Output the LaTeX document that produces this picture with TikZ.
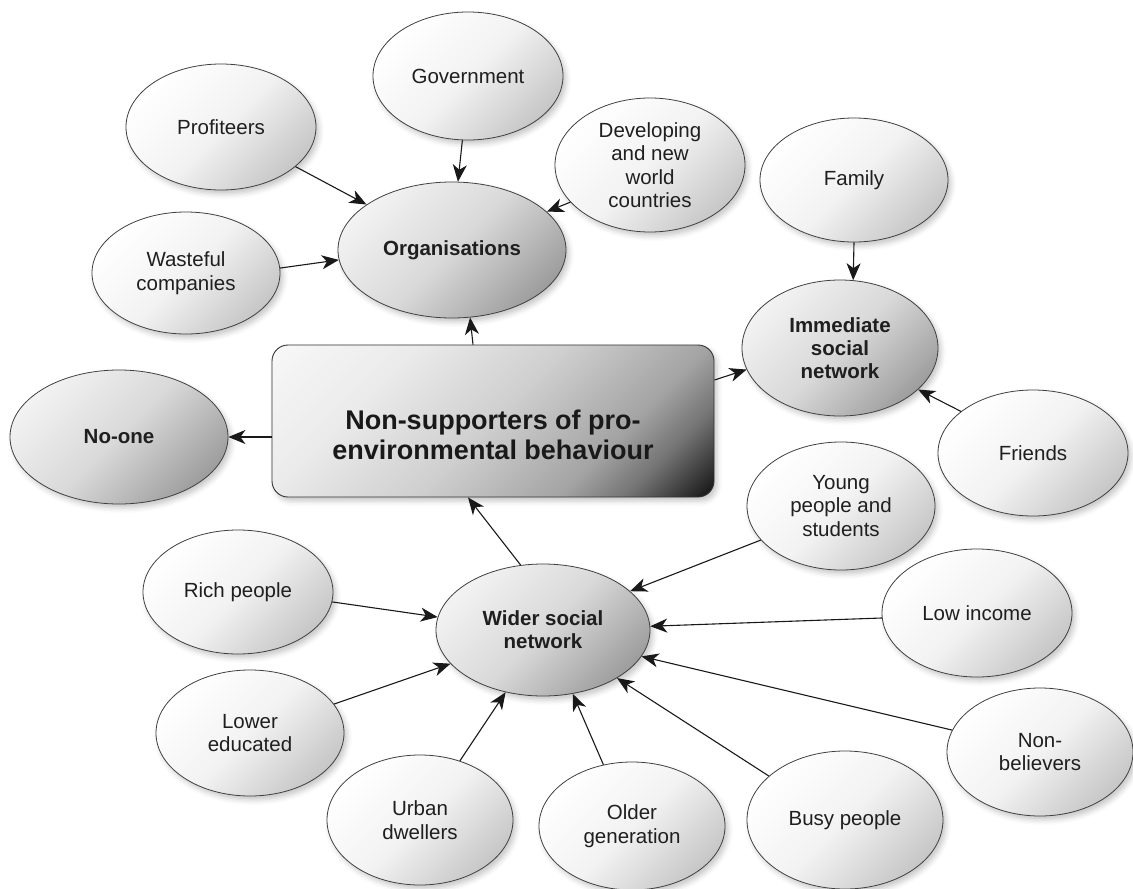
\documentclass[tikz,border=0pt]{standalone}
\usepackage{fontspec}
\setmainfont{Liberation Sans}
\usetikzlibrary{shapes.geometric,arrows.meta,shadows.blur}

% diagonal grey ramp for the central box: light top-left, black bottom-right corner
\pgfdeclareverticalshading{hubboxshade}{100bp}{%
  color(0bp)=(black!95); color(15bp)=(black!92); color(25bp)=(black!55);
  color(33bp)=(black!36); color(50bp)=(black!19); color(68bp)=(black!8);
  color(85bp)=(black!3); color(100bp)=(black!3)}

\tikzset{
  softshadow/.style={blur shadow={shadow xshift=3pt, shadow yshift=-4pt,
      shadow blur radius=5pt, shadow opacity=22}},
  bubble/.style={ellipse, draw=black!75, line width=0.8pt, inner sep=0pt,
      align=center, text=black!88, softshadow},
  leaf/.style={bubble, top color=white, bottom color=black!22,
      middle color=black!5, shading angle=45,
      font=\fontsize{20.5}{23.5}\selectfont},
  group/.style={bubble, top color=black!5, bottom color=black!38,
      middle color=black!15, shading angle=45,
      font=\bfseries\fontsize{20.5}{23}\selectfont},
  hub/.style={rectangle, rounded corners=16pt, draw=black!80, line width=0.9pt,
      shading=hubboxshade, shading angle=45, softshadow},
  hubtext/.style={font=\bfseries\fontsize{27}{30}\selectfont, align=center,
      text=black!90, inner sep=0pt},
  link/.style={draw=black!90, line width=1.1pt,
      -{Stealth[length=17pt,width=14pt,inset=5pt]}},
}

\begin{document}
\begin{tikzpicture}[x=1pt,y=-1pt]
\useasboundingbox (0,0) rectangle (1133,889);

% central box
\node[hub, minimum width=442pt, minimum height=152pt] (hub) at (493,421) {};
\node[hubtext] (hubtext) at (493,435) {Non-supporters of pro-\\environmental behaviour};

% group ellipses
\node[group, minimum width=228pt, minimum height=136pt] (org)   at (452,250) {Organisations};
\node[group, minimum width=196pt, minimum height=136pt] (imm)   at (840,348) {Immediate\\social\\network};
\node[group, minimum width=218pt, minimum height=134pt] (noone) at (119,437) {No-one};
\node[group, minimum width=214pt, minimum height=132pt] (wider) at (543,630) {Wider social\\network};

% organisations
\node[leaf, minimum width=190pt, minimum height=128pt] (gov)   at (468,76)  {Government};
\node[leaf, minimum width=190pt, minimum height=126pt] (prof)  at (221,127) {Profiteers};
\node[leaf, minimum width=190pt, minimum height=134pt] (dev)   at (650,165) {Developing\\and new\\world\\countries};
\node[leaf, minimum width=188pt, minimum height=122pt] (waste) at (186,273) {Wasteful\\companies};

% immediate social network
\node[leaf, minimum width=188pt, minimum height=124pt] (family)  at (854,180)  {Family};
\node[leaf, minimum width=190pt, minimum height=126pt] (friends) at (1033,453) {Friends};

% wider social network
\node[leaf, minimum width=188pt, minimum height=128pt] (young) at (841,506)  {Young\\people and\\students};
\node[leaf, minimum width=190pt, minimum height=124pt] (rich)  at (238,592)  {Rich people};
\node[leaf, minimum width=190pt, minimum height=128pt] (low)   at (977,613)  {Low income};
\node[leaf, minimum width=188pt, minimum height=126pt] (lower) at (250,733)  {Lower\\educated};
\node[leaf, minimum width=186pt, minimum height=128pt] (nonb)  at (1040,752) {Non-\\believers};
\node[leaf, minimum width=186pt, minimum height=130pt] (urban) at (420,820)  {Urban\\dwellers};
\node[leaf, minimum width=186pt, minimum height=128pt] (older) at (632,826)  {Older\\generation};
\node[leaf, minimum width=196pt, minimum height=138pt] (busy)  at (845,820)  {Busy people};

% connectors
\draw[link] (prof.-28) -- (org.152);
\draw[link] (waste.3) -- (org.185);
\draw[link] (gov.-95) -- (org.85);
\draw[link] (dev.205) -- (org.22);
\draw[link] ([xshift=-20pt]hub.north) -- (org.-75);

\draw[link] (family.south) -- (imm.79);
\draw[link] (friends.150) -- (imm.-28);
\draw[link] ([yshift=41pt]hub.east) -- (imm.193);

\draw[link] ([yshift=-16pt]hub.west) -- (noone.east);

\draw[link] (wider.109.5) -- ([xshift=-25pt]hub.south);
\draw[link] (rich.-6) -- (wider.173.5);
\draw[link] (lower.19) -- (wider.200);
\draw[link] (urban.56) -- (wider.-121.5);
\draw[link] (older.115.5) -- (wider.-65);
\draw[link] (busy.150) -- (wider.-33.5);
\draw[link] (nonb.166) -- (wider.-15);
\draw[link] (low.183) -- (wider.2);
\draw[link] (young.203) -- (wider.24);
\end{tikzpicture}
\end{document}
